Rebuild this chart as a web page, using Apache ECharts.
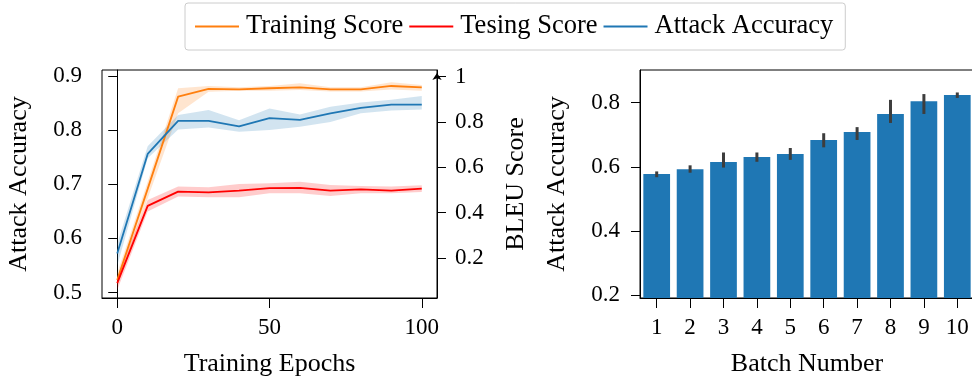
<!DOCTYPE html>
<html>
<head>
<meta charset="utf-8">
<script src="https://cdn.jsdelivr.net/npm/echarts@6/dist/echarts.min.js"></script>
<style>
html,body{margin:0;padding:0;background:#fff;}
#c{width:972px;height:377px;}
</style>
</head>
<body>
<div id="c"></div>
<script>
// ---------- data ----------
const epochs = [0, 10, 20, 30, 40, 50, 60, 70, 80, 90, 100];
const attackAcc = [0.572, 0.756, 0.817, 0.817, 0.807, 0.822, 0.819, 0.831, 0.841, 0.847, 0.847];
const attackLo  = [0.550, 0.748, 0.801, 0.805, 0.797, 0.800, 0.806, 0.815, 0.831, 0.836, 0.838];
const attackHi  = [0.590, 0.770, 0.828, 0.837, 0.818, 0.840, 0.829, 0.843, 0.851, 0.856, 0.863];
const trainScore = [0.103, 0.505, 0.912, 0.946, 0.944, 0.949, 0.953, 0.944, 0.944, 0.959, 0.953];
const trainLo    = [0.074, 0.464, 0.839, 0.934, 0.938, 0.938, 0.941, 0.935, 0.935, 0.944, 0.938];
const trainHi    = [0.133, 0.537, 0.949, 0.959, 0.953, 0.959, 0.971, 0.953, 0.953, 0.975, 0.963];
const testScore = [0.089, 0.430, 0.493, 0.490, 0.497, 0.508, 0.509, 0.497, 0.503, 0.497, 0.506];
const testLo    = [0.059, 0.405, 0.471, 0.468, 0.468, 0.486, 0.486, 0.474, 0.486, 0.486, 0.491];
const testHi    = [0.118, 0.456, 0.515, 0.512, 0.527, 0.530, 0.537, 0.522, 0.518, 0.515, 0.521];

const batches  = ['1', '2', '3', '4', '5', '6', '7', '8', '9', '10'];
const barMeans = [0.578, 0.593, 0.615, 0.631, 0.640, 0.684, 0.709, 0.765, 0.805, 0.824];
const barLo    = [0.568, 0.582, 0.598, 0.616, 0.622, 0.661, 0.684, 0.737, 0.765, 0.815];
const barHi    = [0.586, 0.605, 0.645, 0.645, 0.659, 0.705, 0.724, 0.809, 0.827, 0.832];

const epochTicks = [0, 50, 100];
const accTicks = [0.5, 0.6, 0.7, 0.8, 0.9];
const bleuTicks = [0.2, 0.4, 0.6, 0.8, 1];
const barTicks = [0.2, 0.4, 0.6, 0.8];

// ---------- styling ----------
const FONT = '"Liberation Serif", "Times New Roman", serif';
const C_ORANGE = '#ff7f0e', C_RED = '#ff0000', C_BLUE = '#1f77b4';
const fmt = v => (v === 1 ? '1' : v.toFixed(1));
const tickStyle = { color: '#000', width: 1 };

function pairs(ys) { return epochs.map((x, i) => [x, ys[i]]); }
function band(name, lo, hi, color, yIdx) {
  return {
    name: name, type: 'custom', xAxisIndex: 0, yAxisIndex: yIdx, silent: true, z: 1,
    data: [[epochs[0], lo[0]]],
    clip: true,
    renderItem: function (params, api) {
      const pts = [];
      for (let i = 0; i < epochs.length; i++) pts.push(api.coord([epochs[i], hi[i]]));
      for (let i = epochs.length - 1; i >= 0; i--) pts.push(api.coord([epochs[i], lo[i]]));
      return { type: 'polygon', shape: { points: pts }, style: { fill: color, opacity: 0.2 } };
    }
  };
}
function line(name, ys, color, yIdx) {
  return { name: name, type: 'line', xAxisIndex: 0, yAxisIndex: yIdx, data: pairs(ys),
    symbol: 'none', lineStyle: { color: color, width: 1.8 }, itemStyle: { color: color }, z: 3 };
}

const option = {
  animation: false,
  backgroundColor: '#fff',
  textStyle: { fontFamily: FONT },
  legend: {
    data: ['Training Score', 'Tesing Score', 'Attack Accuracy'],
    icon: 'rect',
    left: 185, top: 3,
    padding: [10, 12, 10, 10],
    itemWidth: 44, itemHeight: 2, itemGap: 6,
    borderColor: '#cccccc', borderWidth: 1, borderRadius: 3,
    textStyle: { fontFamily: FONT, fontSize: 26.5, color: '#000', padding: [0, 0, 0, 2] }
  },
  grid: [
    { left: 102, top: 70, width: 335, height: 228, show: true, borderColor: '#000', borderWidth: 1,
      backgroundColor: 'transparent', containLabel: false, outerBoundsMode: 'none' },
    { left: 640, top: 70, width: 334, height: 228, show: true, borderColor: '#000', borderWidth: 1,
      backgroundColor: 'transparent', containLabel: false, outerBoundsMode: 'none' }
  ],
  xAxis: [
    { type: 'value', gridIndex: 0, min: -5, max: 105,
      name: 'Training Epochs', nameLocation: 'middle', nameGap: 53,
      nameTextStyle: { fontFamily: FONT, fontSize: 26, color: '#000' },
      axisLine: { lineStyle: { color: '#000' } },
      axisTick: { show: true, length: 10, lineStyle: tickStyle, customValues: epochTicks },
      axisLabel: { fontFamily: FONT, fontSize: 23, color: '#000', margin: 18, customValues: epochTicks },
      splitLine: { show: false } },
    { type: 'category', gridIndex: 1, data: batches, boundaryGap: true,
      name: 'Batch Number', nameLocation: 'middle', nameGap: 53,
      nameTextStyle: { fontFamily: FONT, fontSize: 26, color: '#000' },
      axisLine: { lineStyle: { color: '#000' } },
      axisTick: { show: true, length: 10, alignWithLabel: true, lineStyle: tickStyle },
      axisLabel: { fontFamily: FONT, fontSize: 23, color: '#000', margin: 18, interval: 0 },
      splitLine: { show: false } }
  ],
  yAxis: [
    { type: 'value', gridIndex: 0, position: 'left', min: 0.49, max: 0.911,
      name: 'Attack Accuracy', nameLocation: 'middle', nameGap: 70, nameRotate: 90,
      nameTextStyle: { fontFamily: FONT, fontSize: 26, color: '#000' },
      axisLine: { show: true, lineStyle: { color: '#000' } },
      axisTick: { show: true, length: 9, lineStyle: tickStyle, customValues: accTicks },
      axisLabel: { fontFamily: FONT, fontSize: 23, color: '#000', margin: 20, formatter: fmt, customValues: accTicks },
      splitLine: { show: false } },
    { type: 'value', gridIndex: 0, position: 'right', min: 0.0236, max: 1.0295,
      name: 'BLEU Score', nameLocation: 'middle', nameGap: 66, nameRotate: 90,
      nameTextStyle: { fontFamily: FONT, fontSize: 26, color: '#000' },
      axisLine: { show: true, symbol: ['none', 'arrow'], symbolSize: [7, 7], symbolOffset: [0, -3], lineStyle: { color: '#000' } },
      axisTick: { show: true, length: 9, lineStyle: tickStyle, customValues: bleuTicks },
      axisLabel: { fontFamily: FONT, fontSize: 23, color: '#000', margin: 18, formatter: fmt, customValues: bleuTicks },
      splitLine: { show: false } },
    { type: 'value', gridIndex: 1, position: 'left', min: 0.1916, max: 0.902,
      name: 'Attack Accuracy', nameLocation: 'middle', nameGap: 70, nameRotate: 90,
      nameTextStyle: { fontFamily: FONT, fontSize: 26, color: '#000' },
      axisLine: { show: true, lineStyle: { color: '#000' } },
      axisTick: { show: true, length: 9, lineStyle: tickStyle, customValues: barTicks },
      axisLabel: { fontFamily: FONT, fontSize: 23, color: '#000', margin: 20, formatter: fmt, customValues: barTicks },
      splitLine: { show: false } }
  ],
  series: [
    band('bandTrain', trainLo, trainHi, C_ORANGE, 1),
    band('bandTest', testLo, testHi, C_RED, 1),
    band('bandAtk', attackLo, attackHi, C_BLUE, 0),
    line('Training Score', trainScore, C_ORANGE, 1),
    line('Tesing Score', testScore, C_RED, 1),
    line('Attack Accuracy', attackAcc, C_BLUE, 0),
    { name: 'bars', type: 'bar', xAxisIndex: 1, yAxisIndex: 2, data: barMeans,
      barCategoryGap: '20%', itemStyle: { color: '#1f77b4' }, z: 2 },
    { name: 'err', type: 'custom', xAxisIndex: 1, yAxisIndex: 2, z: 5,
      data: batches.map((b, i) => [i, barLo[i], barHi[i]]),
      encode: { x: 0, y: [1, 2] },
      renderItem: function (params, api) {
        const i = api.value(0);
        const p1 = api.coord([i, api.value(1)]);
        const p2 = api.coord([i, api.value(2)]);
        return { type: 'line', shape: { x1: p1[0], y1: p1[1], x2: p2[0], y2: p2[1] },
          style: { stroke: '#3d3d3d', lineWidth: 3 } };
      } }
  ]
};

const chart = echarts.init(document.getElementById('c'), null, { renderer: 'canvas' });
chart.setOption(option);
</script>
</body>
</html>
